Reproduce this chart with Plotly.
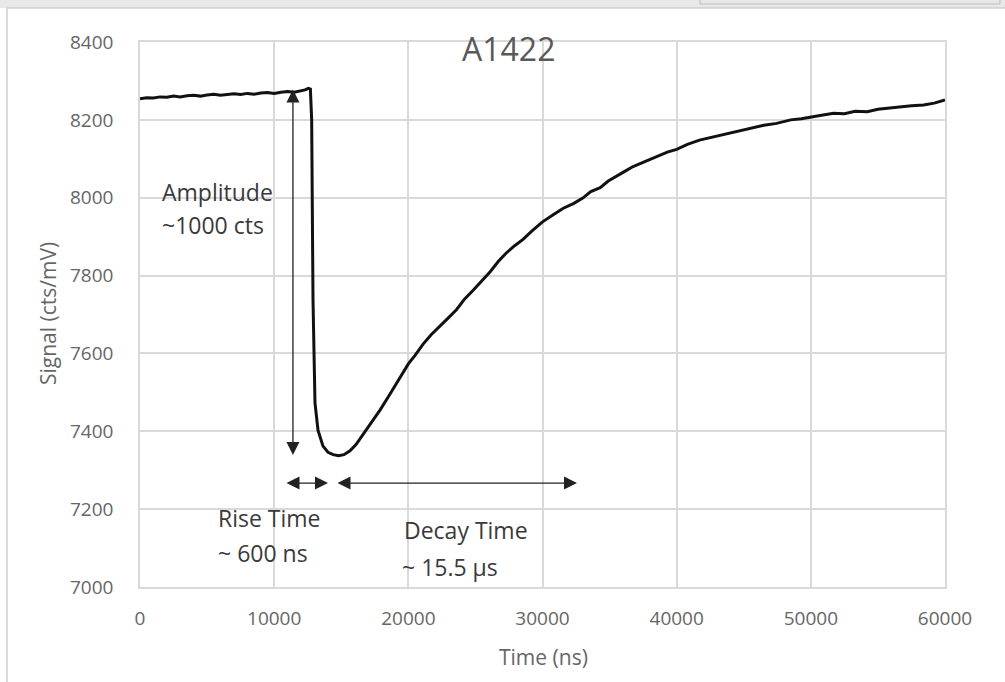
import plotly.graph_objects as go

# ---- data ----
time_ns = [
    0, 500, 1000, 1500, 2000, 2500, 3000, 3500, 4000, 4500, 5000, 5500, 6000, 6500,
    7000, 7500, 8000, 8500, 9000, 9500, 10000, 10500, 11000, 11500, 12000, 12300,
    12550, 12700, 12795, 12895, 13043, 13266, 13639, 14012, 14400, 14800, 15200,
    15650, 16100, 16650, 17200, 17900, 18500, 19100, 19600, 20000, 20500, 21100,
    21700, 22350, 23000, 23600, 24200, 24850, 25450, 26100, 26700, 27300, 27900,
    28550, 29200, 30000, 30800, 31550, 32300, 33000, 33600, 34300, 34900, 35500,
    36100, 36750, 37400, 38000, 38700, 39300, 40000, 40800, 41700, 42700, 43700,
    44600, 45500, 46500, 47450, 48500, 49300, 50000, 50800, 51700, 52500, 53300,
    54200, 55000, 55800, 56600, 57500, 58400, 59200, 60000,
]
signal = [
    8254, 8257, 8256, 8259, 8258, 8261, 8259, 8262, 8263, 8261, 8264, 8266, 8263, 8265,
    8267, 8265, 8268, 8266, 8269, 8270, 8268, 8271, 8273, 8271, 8274, 8277,
    8281, 8279, 8200, 7737, 7473, 7403, 7362, 7346, 7340, 7337, 7340,
    7350, 7366, 7393, 7420, 7455, 7488, 7522, 7550, 7573, 7595, 7624,
    7648, 7669, 7692, 7713, 7740, 7763, 7786, 7810, 7836, 7858, 7876,
    7893, 7914, 7938, 7956, 7973, 7985, 7999, 8016, 8026, 8043, 8054,
    8067, 8080, 8089, 8097, 8108, 8117, 8124, 8137, 8148, 8156, 8165,
    8172, 8178, 8186, 8191, 8200, 8203, 8208, 8212, 8217, 8216, 8222,
    8221, 8227, 8230, 8234, 8236, 8238, 8243, 8251,
]

title_text = "A1422"
x_title = "Time (ns)"
y_title = "Signal (cts/mV)"
x_ticks = [0, 10000, 20000, 30000, 40000, 50000, 60000]
y_ticks = [7000, 7200, 7400, 7600, 7800, 8000, 8200, 8400]

# annotation arrows (start, end) in data units
amp_arrow = dict(x=11400, y0=8282, y1=7339)
rise_arrow = dict(y=7267, x0=10807, x1=14012)
decay_arrow = dict(y=7267, x0=14608, x1=32570)

labels = [
    ("Amplitude", 1491, 8015),
    ("~1000 cts", 1491, 7930),
    ("Rise Time", 5664, 7177),
    ("~ 600 ns", 5664, 7087),
    ("Decay Time", 19527, 7146),
    ("~ 15.5 \u00b5s", 19378, 7051),
]

FONT = "Open Sans"
W, H = 1005, 682
L, R, T, B = 140, 60, 42, 95
PW, PH = W - L - R, H - T - B


def px(xp):
    return (xp - L) / PW


def py(yp):
    return (H - B - yp) / PH


fig = go.Figure()
fig.add_trace(go.Scatter(
    x=time_ns, y=signal, mode="lines",
    line=dict(color="#111111", width=3),
    showlegend=False, hoverinfo="skip",
))

grid = "#d9d9d9"
fig.update_xaxes(
    range=[0, 60000], tickvals=x_ticks, ticktext=[str(v) for v in x_ticks],
    showgrid=True, gridcolor=grid, gridwidth=1.5, zeroline=False,
    showline=True, linecolor=grid, linewidth=1.5, mirror=True,
    ticks="", ticklabelstandoff=13,
    tickfont=dict(family=FONT, size=19, color="#666666"),
)
fig.update_yaxes(
    range=[7000, 8400], tickvals=y_ticks, ticktext=[str(v) for v in y_ticks],
    showgrid=True, gridcolor=grid, gridwidth=1.5, zeroline=False,
    showline=True, linecolor=grid, linewidth=1.5, mirror=True,
    ticks="", ticklabelstandoff=21,
    tickfont=dict(family=FONT, size=19, color="#666666"),
)

ann = []
ann.append(dict(x=amp_arrow["x"], y=amp_arrow["y1"], ax=amp_arrow["x"], ay=amp_arrow["y0"],
                xref="x", yref="y", axref="x", ayref="y", text="", showarrow=True,
                arrowhead=2, startarrowhead=2, arrowside="end+start", arrowwidth=1.3,
                arrowsize=2, startarrowsize=2, arrowcolor="#222222"))
for a in (rise_arrow, decay_arrow):
    ann.append(dict(x=a["x1"], y=a["y"], ax=a["x0"], ay=a["y"],
                    xref="x", yref="y", axref="x", ayref="y", text="", showarrow=True,
                    arrowhead=2, startarrowhead=2, arrowside="end+start", arrowwidth=1.3,
                    arrowsize=2, startarrowsize=2, arrowcolor="#222222"))
for txt, xx, yy in labels:
    ann.append(dict(x=xx, y=yy, xref="x", yref="y", text=txt, showarrow=False,
                    xanchor="left", yanchor="middle",
                    font=dict(family=FONT, size=23, color="#3a3a3a")))
ann.append(dict(x=px(508), y=py(49), xref="paper", yref="paper", text=title_text,
                showarrow=False, xanchor="center", yanchor="middle",
                font=dict(family=FONT, size=32, color="#595959")))
ann.append(dict(x=px(543), y=py(657), xref="paper", yref="paper", text=x_title,
                showarrow=False, xanchor="center", yanchor="middle",
                font=dict(family=FONT, size=21, color="#666666")))
ann.append(dict(x=px(48), y=py(314), xref="paper", yref="paper", text=y_title,
                showarrow=False, xanchor="center", yanchor="middle", textangle=-90,
                font=dict(family=FONT, size=21, color="#666666")))

shapes = [
    dict(type="rect", xref="paper", yref="paper", x0=px(0), x1=px(W), y0=py(8), y1=py(-2),
         fillcolor="#e8e8e8", line=dict(width=0), layer="below"),
    dict(type="line", xref="paper", yref="paper", x0=px(7), x1=px(W), y0=py(8), y1=py(8),
         line=dict(color="#cfcfcf", width=1.5)),
    dict(type="line", xref="paper", yref="paper", x0=px(7), x1=px(7), y0=py(8), y1=py(H),
         line=dict(color="#cfcfcf", width=1.5)),
    dict(type="rect", xref="paper", yref="paper", x0=px(700), x1=px(1000), y0=py(4), y1=py(-3),
         fillcolor="rgba(0,0,0,0)", line=dict(color="#bdbdbd", width=1)),
]

fig.update_layout(
    width=W, height=H,
    margin=dict(l=L, r=R, t=T, b=B),
    paper_bgcolor="white", plot_bgcolor="white",
    annotations=ann, shapes=shapes,
    font=dict(family=FONT),
)

fig.write_html("out.html",
               config={"displayModeBar": False},
               post_script="document.body.style.margin='0';document.body.style.overflow='hidden';")
